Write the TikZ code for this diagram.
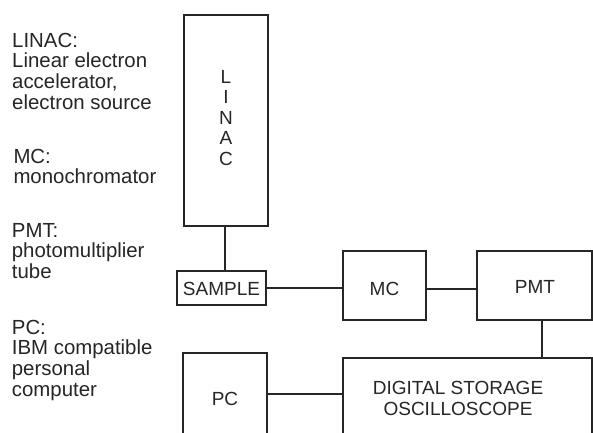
\documentclass[tikz,border=0pt]{standalone}
\usepackage{fontspec}
\setmainfont{Liberation Sans}
\usetikzlibrary{calc}
\begin{document}
\begin{tikzpicture}[x=1pt,y=-1pt,
  box/.style={draw=black!85, line width=1.4pt, inner sep=0pt},
  wire/.style={draw=black!85, line width=1.4pt},
  legend/.style={anchor=base west, align=left, inner sep=0pt, font=\fontsize{20.4}{20.7}\selectfont, text=black!85},
  lbl/.style={anchor=base, align=center, inner sep=0pt, font=\fontsize{19}{21.5}\selectfont, text=black!85}]
\useasboundingbox (0,0) rectangle (593,432);
\clip (0,0) rectangle (593,432);
\fill[white] (0,0) rectangle (593,432);
% boxes
\node[box, minimum width=84pt, minimum height=211pt] (linac) at (226,120.5) {};
\node[box, minimum width=89pt, minimum height=34pt] (sample) at (221.5,288) {};
\node[box, minimum width=83pt, minimum height=69pt] (mc) at (384.5,285.5) {};
\node[box, minimum width=115pt, minimum height=69pt] (pmt) at (534.5,285.5) {};
\node[box, minimum width=249pt, minimum height=90pt] (dso) at (467.5,403) {};
\node[box, minimum width=84pt, minimum height=95pt] (pc) at (225,400.5) {};
% box texts (anchor base = baseline of last line)
\node[lbl, font=\fontsize{19}{20.5}\selectfont] (linact) at (226,165.3) {L\\I\\N\\A\\C};
\node[lbl] (samplet) at (221.5,295) {SAMPLE};
\node[lbl] (mct) at (384.5,295) {MC};
\node[lbl] (pmtt) at (535,293.5) {PMT};
\node[lbl] (dsot) at (458,415.5) {DIGITAL STORAGE\\OSCILLOSCOPE};
\node[lbl] (pct) at (225,405) {PC};
% legends
\node[legend] (leg1) at (12,109.1) {LINAC:\\Linear electron\\accelerator,\\electron source};
\node[legend] (leg2) at (13.3,183.7) {MC:\\monochromator};
\node[legend] (leg3) at (11.7,278.4) {PMT:\\photomultiplier\\tube};
\node[legend] (leg4) at (11.7,396.1) {PC:\\IBM compatible\\personal\\computer};
% connectors
\draw[wire] ([xshift=-1pt]linac.south) -- ([xshift=-1pt]linac.south |- sample.north);
\draw[wire] (sample.east) -- (sample.east -| mc.west);
\draw[wire] ([yshift=-3.5pt]mc.east) -- ([yshift=-3.5pt]mc.east -| pmt.west);
\draw[wire] ([xshift=7.5pt]pmt.south) -- ([xshift=7.5pt]pmt.south |- dso.north);
\draw[wire] ([yshift=6.5pt]pc.east) -- ([yshift=6.5pt]pc.east -| dso.west);
\end{tikzpicture}
\end{document}
